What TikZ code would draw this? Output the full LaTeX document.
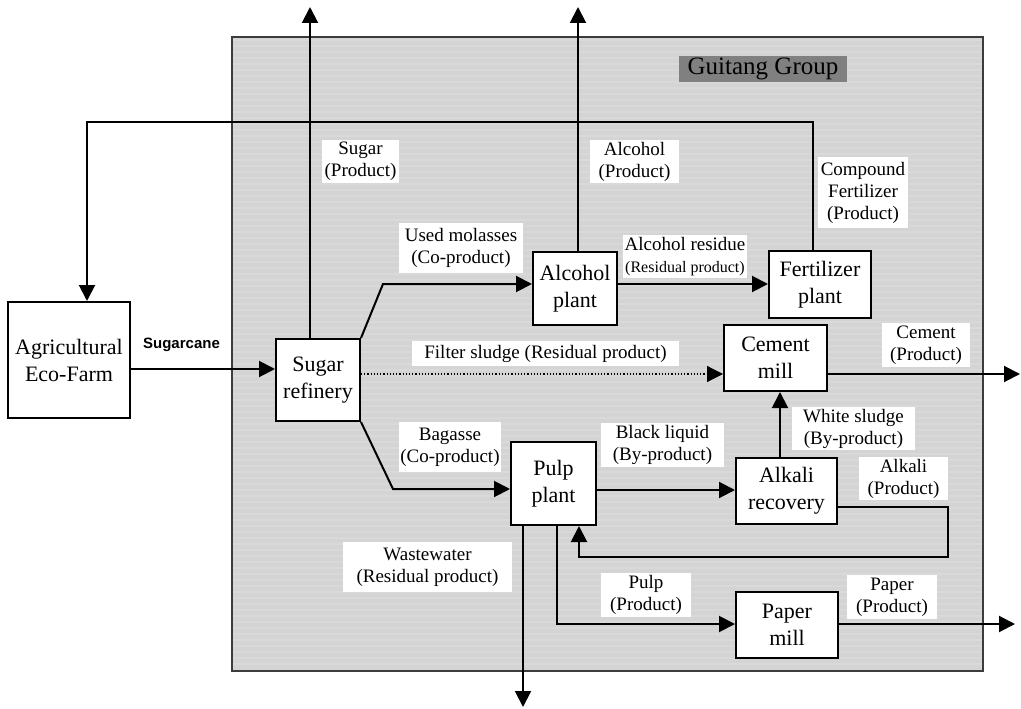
\documentclass[tikz,border=0pt]{standalone}
\usepackage{fontspec}
\setmainfont{Liberation Serif}
\newfontfamily\canefont{Liberation Sans}
\usetikzlibrary{arrows.meta}
\definecolor{panel}{RGB}{212,212,212}
\definecolor{panelline}{RGB}{60,60,60}
\definecolor{tagfill}{RGB}{128,128,128}
\tikzset{
  proc/.style={draw=black, fill=white, line width=2pt, inner sep=0pt, align=center,
    font=\fontsize{22}{27}\selectfont},
  tag/.style={fill=white, inner sep=0pt, align=center, font=\fontsize{19}{22}\selectfont},
  flow/.style={line width=2pt, -{Triangle[length=16pt,width=16pt]}},
  plain/.style={line width=2pt},
  dotflow/.style={line width=1.2pt, dotted, -{Triangle[length=16pt,width=16pt]}},
}
\begin{document}
\begin{tikzpicture}[x=1pt,y=-1pt]
\useasboundingbox (0,0) rectangle (1021,709);
% group panel
\fill[panel] (232,37) rectangle (983,671);
\foreach \yy in {40,46,...,668} {\draw[white, opacity=0.12, line width=1.5pt] (233,\yy) -- (982,\yy);}
\draw[panelline, line width=1.5pt] (232,37) rectangle (983,671);
\node[fill=tagfill, minimum width=168pt, minimum height=26pt, inner sep=0pt,
  font=\fontsize{25}{26}\selectfont] (group) at (763,69) {Guitang Group};

% process boxes
\node[proc, minimum width=122pt, minimum height=116pt] (farm) at (69,360) {Agricultural\\Eco-Farm};
\node[proc, minimum width=84pt, minimum height=82pt] (refinery) at (318,380) {Sugar\\refinery};
\node[proc, minimum width=84pt, minimum height=73pt] (alcohol) at (575,288.5) {Alcohol\\plant};
\node[proc, minimum width=102pt, minimum height=67pt] (fert) at (820,284.5) {Fertilizer\\plant};
\node[proc, minimum width=103pt, minimum height=66pt] (cement) at (775.5,358) {Cement\\mill};
\node[proc, minimum width=101pt, minimum height=66pt] (alkali) at (786.5,491) {Alkali\\recovery};
\node[proc, minimum width=85pt, minimum height=83pt] (pulp) at (553.5,483.5) {Pulp\\plant};
\node[proc, minimum width=102pt, minimum height=66pt] (paper) at (787,625) {Paper\\mill};

% free ends and bends
\coordinate (sugarTop) at (310,7);
\coordinate (alcTop) at (578,7);
\coordinate (molBend) at (383,284);
\coordinate (bagBend) at (393,489);
\coordinate (loopA) at (813,122);
\coordinate (loopB) at (87,122);
\coordinate (cementOut) at (1020,374);
\coordinate (paperOut) at (1015,624);
\coordinate (wasteOut) at (523,707);
\coordinate (retA) at (948,507);
\coordinate (retB) at (948,557);
\coordinate (retC) at (579,557);

% connectors
\draw[flow] (farm.east |- 0,369) -- (refinery.west |- 0,369);
\draw[flow] (refinery.north -| sugarTop) -- (sugarTop);
\draw[flow] (alcohol.north -| alcTop) -- (alcTop);
\draw[flow] (refinery.north east) -- (molBend) -- (alcohol.west |- molBend);
\draw[flow] (alcohol.east |- 0,284) -- (fert.west |- 0,284);
\draw[flow] (fert.north -| loopA) -- (loopA) -- (loopB) -- (farm.north -| loopB);
\draw[dotflow] (refinery.east |- 0,374) -- (cement.west |- 0,374);
\draw[flow] (cement.east |- cementOut) -- (cementOut);
\draw[flow] (refinery.south east) -- (bagBend) -- (pulp.west |- bagBend);
\draw[flow] (pulp.east |- 0,490) -- (alkali.west |- 0,490);
\draw[flow] (alkali.north -| 780,0) -- (cement.south -| 780,0);
\draw[flow] (alkali.east |- retA) -- (retA) -- (retB) -- (retC) -- (pulp.south -| retC);
\draw[flow] (pulp.south -| wasteOut) -- (wasteOut);
\draw[flow] (pulp.south -| 557,0) |- (paper.west |- paperOut);
\draw[flow] (paper.east |- paperOut) -- (paperOut);

% labels
\node[font=\canefont\bfseries\fontsize{15}{17}\selectfont, inner sep=0pt] (cane) at (181.5,345) {Sugarcane};
\node[tag, minimum width=77pt, minimum height=43pt] (lsugar) at (360.5,161.5) {Sugar\\(Product)};
\node[tag, minimum width=89pt, minimum height=43pt] (lalc) at (634.5,161.5) {Alcohol\\(Product)};
\node[tag, minimum width=124pt, minimum height=50pt] (lmol) at (461,248) {Used molasses\\(Co-product)};
\node[tag, minimum width=124pt, minimum height=43pt] (lres) at (685,256.5) {Alcohol residue\\{\fontsize{16}{19}\selectfont(Residual product)}};
\node[tag, minimum width=90pt, minimum height=71pt] (lfert) at (863,192.5) {Compound\\Fertilizer\\(Product)};
\node[tag, minimum width=267pt, minimum height=25pt] (lfilter) at (545.5,353.5) {Filter sludge (Residual product)};
\node[tag, minimum width=88pt, minimum height=44pt] (lcement) at (926,345) {Cement\\(Product)};
\node[tag, minimum width=123pt, minimum height=43pt] (lwhite) at (853.5,428.5) {White sludge\\(By-product)};
\node[tag, minimum width=89pt, minimum height=43pt] (lalkali) at (903.5,478.5) {Alkali\\(Product)};
\node[tag, minimum width=102pt, minimum height=50pt] (lbag) at (450,447) {Bagasse\\(Co-product)};
\node[tag, minimum width=123pt, minimum height=44pt] (lblack) at (662.5,445) {Black liquid\\(By-product)};
\node[tag, minimum width=169pt, minimum height=50pt] (lwaste) at (427.5,567) {Wastewater\\(Residual product)};
\node[tag, minimum width=90pt, minimum height=44pt] (lpulp) at (646,595) {Pulp\\(Product)};
\node[tag, minimum width=90pt, minimum height=44pt] (lpaper) at (892,597) {Paper\\(Product)};
\end{tikzpicture}
\end{document}
